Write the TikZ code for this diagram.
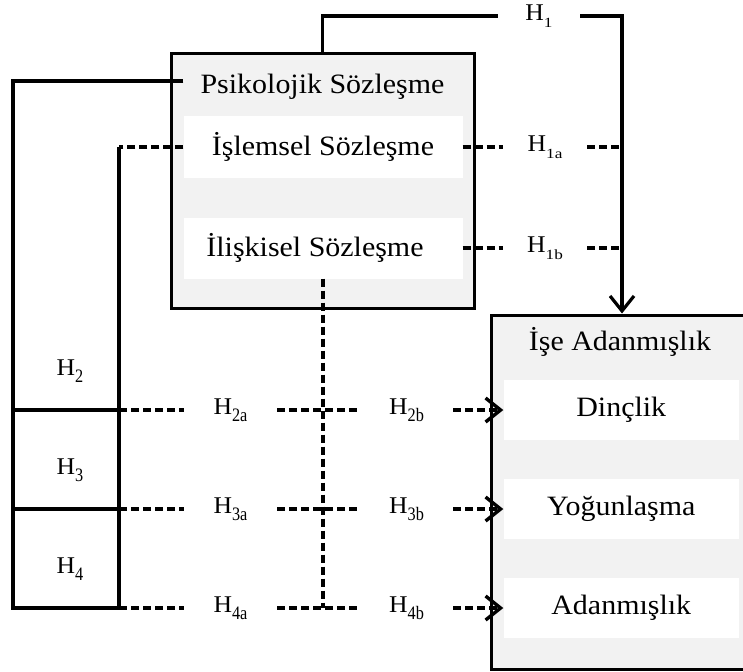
\documentclass[tikz,border=0pt]{standalone}
\usepackage{fontspec}
\usepackage{graphicx}
\setmainfont{Liberation Serif}[FakeStretch=1.07]
\usetikzlibrary{arrows.meta,positioning}

% lowered subscripts of the hypothesis labels
\newcommand{\hsub}[1]{\raisebox{-7pt}{\scalebox{0.8}[1]{\fontsize{19}{19}\selectfont #1}}}
\newcommand{\hsubs}[1]{\raisebox{-7pt}{\scalebox{1.15}[1]{\fontsize{14}{14}\selectfont #1}}}

\begin{document}
\begin{tikzpicture}[
    x=1pt, y=-1pt,
    bigbox/.style={
      rectangle,
      draw,
      line width=3pt,
      fill=gray!10,
      inner sep=0pt
    },
    subbox/.style={
      rectangle,
      fill=white,
      inner sep=0pt,
      minimum height=61pt,
      font=\fontsize{28}{32}\selectfont
    },
    title/.style={font=\fontsize{28}{32}\selectfont},
    hyp/.style={
      inner sep=0pt,
      minimum width=93pt,
      font=\fontsize{24}{28}\selectfont
    },
    line/.style={draw, line width=3.2pt},
    dline/.style={line, line width=3.4pt, dash pattern=on 8pt off 4pt},
    arr/.style={-{Straight Barb[length=15pt,width=24pt]}}
]
    \useasboundingbox (0,0) rectangle (743,671);
    \clip (0,0) rectangle (743,671);

    % Nodes
    \node [bigbox, minimum width=303pt, minimum height=254pt] (psk) at (322.5,181) {};
    \node [title, inner xsep=17pt] (pskt) at (322.5,87) {Psikolojik Sözleşme};
    \node [subbox, minimum width=279pt] (isl) at (323,147) {İşlemsel Sözleşme};
    \node [subbox, minimum width=279pt] (ili) at (323,248) {İlişkisel Sözleşme\kern 16pt};

    \node [bigbox, minimum width=261pt, minimum height=354pt] (ise) at (622,492) {};
    \node [title] (iset) at (620,342) {İşe Adanmışlık};
    \node [subbox, minimum width=235.5pt, minimum height=60pt] (dinc) at (621.25,410) {Dinçlik};
    \node [subbox, minimum width=235.5pt, minimum height=60pt] (yog) at (621.25,509) {Yoğunlaşma};
    \node [subbox, minimum width=235.5pt, minimum height=60pt] (adn) at (621.25,608) {Adanmışlık};

    % Hypotheses
    \node [hyp, minimum width=82pt] (h1) at (539,16) {H\hsubs{1}};
    \node [hyp, minimum width=84pt] (h1a) at (545,147) {H\hsubs{1a}};
    \node [hyp, minimum width=84pt] (h1b) at (545,248) {H\hsubs{1b}};
    \node [hyp] (h2a) at (230.5,410) {H\hsub{2a}};
    \node [hyp] (h2b) at (406.5,410) {H\hsub{2b}};
    \node [hyp] (h3a) at (230.5,509) {H\hsub{3a}};
    \node [hyp] (h3b) at (406.5,509) {H\hsub{3b}};
    \node [hyp] (h4a) at (230.5,608) {H\hsub{4a}};
    \node [hyp] (h4b) at (406.5,608) {H\hsub{4b}};
    \node [hyp, minimum width=0pt] (h2) at (70,371) {H\hsub{2}};
    \node [hyp, minimum width=0pt] (h3) at (70,470) {H\hsub{3}};
    \node [hyp, minimum width=0pt] (h4) at (70,569) {H\hsub{4}};

    \coordinate (outer) at (13,0);
    \coordinate (inner) at (119,0);

    % Edges
    \path [line] (psk.north) |- (h1.west);
    \path [line, arr] (h1.east) -| (ise.north);
    \path [dline] (isl.east) -- (h1a.west);
    \path [dline] (h1a.east) -- (h1a.east -| ise.north);
    \path [dline] (ili.east) -- (h1b.west);
    \path [dline] (h1b.east) -- (h1b.east -| ise.north);

    \path [line] ([yshift=6pt]pskt.west) -| (outer |- h4a) -- (inner |- h4a);
    \path [line] (outer |- h2a) -- (inner |- h2a);
    \path [line] (outer |- h3a) -- (inner |- h3a);
    \path [dline] (isl.west) -- (inner |- isl.west);
    \path [line] (inner |- isl.west) -- (inner |- h4a);
    \path [dline] (ili.south) -- (ili.south |- h4a);

    \path [dline] (inner |- h2a) -- (h2a.west);
    \path [dline] (h2a.east) -- (h2b.west);
    \path [dline, arr] (h2b.east) -- (dinc.west);
    \path [dline] (inner |- h3a) -- (h3a.west);
    \path [dline] (h3a.east) -- (h3b.west);
    \path [dline, arr] (h3b.east) -- (yog.west);
    \path [dline] (inner |- h4a) -- (h4a.west);
    \path [dline] (h4a.east) -- (h4b.west);
    \path [dline, arr] (h4b.east) -- (adn.west);

\end{tikzpicture}
\end{document}
